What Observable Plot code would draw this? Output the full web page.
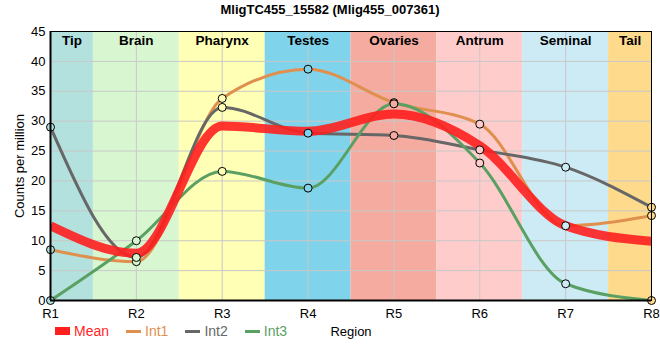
<!DOCTYPE html>
<html><head><meta charset="utf-8">
<script src="https://cdn.jsdelivr.net/npm/d3@7"></script>
<script src="https://cdn.jsdelivr.net/npm/@observablehq/plot@0.6"></script>
<style>
body{margin:0;background:#fff;font-family:"Liberation Sans",Arial,sans-serif;}
#wrap{position:relative;width:660px;height:360px;}
#title{position:absolute;top:2px;left:0;width:660px;text-align:center;font-weight:bold;font-size:13px;color:#000;}
#legend{position:absolute;top:323px;left:55px;font-size:14px;display:flex;align-items:center;}
#legend .it{display:flex;align-items:center;margin-right:17px;}
#legend .sw{display:inline-block;width:15px;margin-right:4px;}
#chart{position:absolute;top:0;left:0;}
</style></head>
<body><div id="wrap"><div id="title">MligTC455_15582 (Mlig455_007361)</div><div id="chart"></div><div id="legend"></div></div>
<script>
const regions = ["R1","R2","R3","R4","R5","R6","R7","R8"];
const bandNames = ["Tip","Brain","Pharynx","Testes","Ovaries","Antrum","Seminal","Tail"];
const bandColors = ["#b3e1dd","#d8f6d0","#ffffb5","#7fd3eb","#f5ab9f","#ffcccc","#cdebf5","#fdda8c"];
const mean = [12.5, 7.9, 29.2, 28.3, 31.2, 25.9, 12.5, 9.9];
const int1 = [8.5, 6.5, 33.8, 38.7, 33.1, 29.5, 12.5, 14.2];
const int2 = [29.0, 7.2, 32.3, 28.0, 27.6, 25.2, 22.3, 15.6];
const int3 = [0.0, 10.0, 21.6, 18.8, 32.9, 23.0, 2.8, 0.0];
const yTicks = [0,5,10,15,20,25,30,35,40,45];
const seriesNames = ["Mean","Int1","Int2","Int3"];
const seriesColors = ["#ff1f1f","#e0904e","#676767","#5aa062"];

const bands = bandNames.map((name,i)=>({name, color:bandColors[i],
  x1: Math.max(1, i+0.5), x2: Math.min(8, i+1.5), xc:(Math.max(1,i+0.5)+Math.min(8,i+1.5))/2}));
const toRows = (vals,s)=>vals.map((v,i)=>({x:i+1, y:v, s, fill:bandColors[i]}));
const ints = [...toRows(int1,"Int1"),...toRows(int2,"Int2"),...toRows(int3,"Int3")];
const meanRows = toRows(mean,"Mean");
const col = s=>seriesColors[seriesNames.indexOf(s)];

const plot = Plot.plot({
  width:660, height:360,
  marginTop:31, marginBottom:60, marginLeft:50, marginRight:9,
  style:{fontFamily:"Liberation Sans, Arial, sans-serif", fontSize:"13px", color:"#000", background:"transparent"},
  x:{domain:[1,8]},
  y:{domain:[0,45]},
  marks:[
    Plot.rectX(bands,{x1:"x1",x2:"x2",y1:0,y2:45,fill:"color"}),
    Plot.gridY(yTicks,{stroke:"#c8c8c8",strokeOpacity:1}),
    Plot.gridX(d3.range(1,9),{stroke:"#c8c8c8",strokeOpacity:1}),
    Plot.text(bands,{x:"xc",text:"name",frameAnchor:"top",dy:4,fontWeight:"bold",fontSize:13.5,fill:"#000"}),
    Plot.line(ints,{x:"x",y:"y",z:"s",stroke:d=>col(d.s),strokeWidth:3,curve:"monotone-x",clip:true}),
    Plot.line(meanRows,{x:"x",y:"y",stroke:seriesColors[0],strokeWidth:9,strokeOpacity:0.9,curve:"monotone-x",clip:true,strokeLinecap:"butt"}),
    Plot.dot(ints,{x:"x",y:"y",r:4,fill:"fill",stroke:"#000",strokeWidth:1}),
    Plot.frame({stroke:"#000",strokeWidth:1}),
    Plot.ruleY([0],{stroke:"#000",strokeWidth:2}),
    Plot.ruleX([1],{stroke:"#000",strokeWidth:2}),
    Plot.axisX(d3.range(1,9),{tickSize:0,tickPadding:8,tickFormat:d=>regions[d-1],label:"Region",labelAnchor:"center",labelArrow:false,labelOffset:35,fontSize:13}),
    Plot.axisY(yTicks,{tickSize:0,tickPadding:5,label:"Counts per million",labelAnchor:"center",labelArrow:false,labelOffset:36,fontSize:13})
  ]
});
document.getElementById("chart").appendChild(plot);

const leg = document.getElementById("legend");
seriesNames.forEach((n,i)=>{
  const it=document.createElement("span");it.className="it";
  const sw=document.createElement("span");sw.className="sw";
  sw.style.height=(i===0?8:3)+"px";sw.style.background=seriesColors[i];
  const t=document.createElement("span");t.textContent=n;t.style.color=seriesColors[i];
  it.appendChild(sw);it.appendChild(t);leg.appendChild(it);
});
</script></body></html>
